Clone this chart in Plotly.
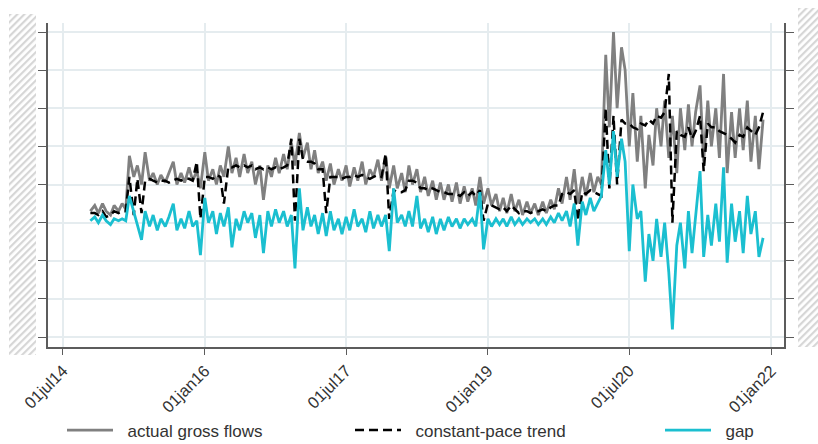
import base64
import pandas as pd
import plotly.graph_objects as go

# semi-monthly observation dates
dates = pd.date_range("2014-10-15", "2021-12-01", freq="SMS")

actual_gross_flows = [
    .3, .45, .25, .5, .3,
    .2, .45, .3, .5, .35, 1.75, 1.2, 1.5, 1.0, 1.85, 1.1, 1.3, 1.0, 1.25, 1.05, 1.3, 1.6, 1.0, 1.3, 1.05, 1.45, 1.1, 1.35, .9,
    1.85, 1.1, 1.4, 1.0, 1.5, 1.2, 2.0, 1.3, 1.7, 1.2, 1.8, 1.3, 1.6, 1.0, 1.5, .6, 1.5, 1.2, 1.7, 1.3, 1.8, 1.4, 2.1, 1.5,
    2.35, 1.7, 2.1, 1.4, 1.9, 1.3, 1.6, 1.1, 1.55, 1.0, 1.4, 1.1, 1.5, .95, 1.45, 1.1, 1.6, 1.0, 1.4, 1.2, 1.65, 1.1, 1.75, .9,
    1.5, .9, 1.3, .8, 1.5, 1.0, 1.4, .8, 1.2, .7, 1.1, .6, 1.05, .6, 1.0, .55, 1.05, .5, .95, .55, .9, .45, 1.2, .5,
    .9, .45, .75, .3, .65, .25, .75, .3, .6, .2, .55, .25, .5, .2, .55, .25, .6, .35, .9, .5, 1.2, .6, 1.4, .5,
    1.2, .7, 1.3, .8, 1.2, 1.0, 4.4, 2.5, 5.0, 3.0, 4.6, 4.0, 2.0, 3.4, 1.6, 2.8, .9, 2.3, 1.5, 3.0, 2.0, 3.2, 1.7, 2.8,
    1.3, 3.0, 1.9, 3.1, 2.0, 2.9, 3.6, 1.6, 3.2, 2.0, 3.0, 1.7, 3.9, 1.3, 2.9, 1.7, 3.0, 1.9, 3.2, 1.6, 2.8, 1.4, 2.7,
]

constant_pace_trend = [
    .25, .25, .2, .3, .15,
    .2, .3, .25, .3, .3, 1.2, .2, 1.15, .25, 1.1, 1.15, 1.1, 1.05, 1.1, 1.1, 1.05, 1.1, 1.15, 1.1, 1.15, 1.15, 1.1, 1.6, .1,
    1.2, 1.2, 1.15, 1.25, 1.2, .5, 1.47, 1.45, 1.5, 1.45, 1.5, 1.45, 1.5, 1.4, 1.45, 1.4, 1.45, 1.4, 1.45, 1.4, 1.45, 1.5, 2.2, .05,
    2.2, 1.65, 1.6, 1.6, 1.55, 1.4, 1.4, .25, 1.2, 1.2, 1.2, 1.15, 1.2, 1.2, 1.25, 1.2, 1.25, 1.2, 1.15, 1.2, 1.25, 1.2, 1.8, .1,
    .85, .8, .8, .85, 1.1, 1.1, 1.05, .9, .9, .85, .9, .85, .8, .8, .75, .75, .75, .7, .8, .7, .8, .7, .85, .05,
    .5, .45, .4, .35, .4, .3, .45, .35, .25, .3, .3, .25, .3, .3, .35, .3, .4, .45, .45, .75, .8, .75, .85, .05,
    .8, .75, .85, .8, .75, .7, 3.0, .9, 2.8, 1.0, 2.7, 2.6, 2.6, 2.5, 2.45, 2.6, 2.55, 2.7, 2.6, 2.8, 2.75, 2.9, 3.9, 0.0,
    2.4, 2.3, 2.25, 2.5, 2.2, 2.4, 2.8, 1.35, 2.6, 2.5, 2.5, 2.4, 2.35, 2.3, 2.2, 2.1, 2.3, 2.25, 2.5, 2.4, 2.3, 2.5, 2.9,
]

gap = [
    .05, .15, 0, .2, .05,
    -.05, .1, .05, .1, .05, .7, .3, -.1, -.45, .3, -.1, .2, -.2, .1, -.1, .15, .5, -.2, .1, -.15, .3, -.1, .05, -.85,
    .65, 0, .3, -.3, .25, -.1, .4, -.65, .1, -.2, .3, 0, .25, -.4, .2, -.8, .3, -.1, .35, 0, .3, -.1, .2, -1.2,
    .9, -.2, .4, -.1, .2, -.3, .25, -.35, .3, -.2, .1, -.3, .15, -.2, .35, -.1, .1, -.25, .3, -.15, .2, -.1, .2, -.75,
    .9, 0, .2, -.1, .3, -.1, .7, -.15, .1, -.25, .15, -.3, .1, -.2, .15, -.1, .1, -.15, .1, -.05, .1, -.1, .8, -.7,
    .1, -.1, .1, -.05, .1, -.1, .15, -.05, .1, -.05, .1, 0, .1, -.05, .1, -.05, .15, 0, .25, .05, .3, -.1, .5, -.6,
    .55, .2, .65, .3, .5, .7, 1.9, 1.0, 2.4, 1.2, 2.2, 1.6, -.75, 1.0, .1, .3, -1.55, -.3, -1.0, .1, -.9, 0, -1.3, -2.8,
    -.6, 0, -1.2, .3, -.8, .1, 1.35, -.9, .2, -.6, .5, -.5, 1.45, -1.05, .5, -.5, .3, -.8, .7, -.3, .3, -.9, -.4,
]

series_names = ["actual gross flows", "constant-pace trend", "gap"]
tick_dates = ["2014-07-01", "2016-01-01", "2017-07-01", "2019-01-01", "2020-07-01", "2022-01-01"]
tick_labels = ["01jul14", "01jan16", "01jul17", "01jan19", "01jul20", "01jan22"]
y_ticks = [-3, -2, -1, 0, 1, 2, 3, 4, 5]

FONT = "Liberation Sans, Arial, Helvetica, sans-serif"
GRID = "#e5ecef"
AXIS = "#5c5c5c"
W, H = 818.0, 444.0
PAD = "\u00a0\u00a0"  # spacing between legend sample and label


def hatch_uri(w, h):
    svg = (
        f"<svg xmlns='http://www.w3.org/2000/svg' width='{w}' height='{h}' "
        f"viewBox='0 0 {w} {h}' preserveAspectRatio='none'>"
        "<defs><pattern id='p' width='5' height='5' patternUnits='userSpaceOnUse' "
        "patternTransform='rotate(45)'><rect x='0' y='0' width='2.2' height='5' fill='#d6d6d6'/>"
        "</pattern></defs>"
        f"<rect width='{w}' height='{h}' fill='url(#p)'/></svg>"
    )
    return "data:image/svg+xml;base64," + base64.b64encode(svg.encode()).decode()


fig = go.Figure()
fig.add_trace(go.Scatter(x=dates, y=actual_gross_flows, mode="lines", name=PAD + series_names[0],
                         line=dict(color="#808080", width=2.8), legend="legend"))
fig.add_trace(go.Scatter(x=dates, y=constant_pace_trend, mode="lines", name=PAD + series_names[1],
                         line=dict(color="#000000", width=2.5, dash="9px,5px"), legend="legend2"))
fig.add_trace(go.Scatter(x=dates, y=gap, mode="lines", name=PAD + series_names[2],
                         line=dict(color="#1bbfd0", width=2.8), legend="legend3"))

leg_common = dict(orientation="h", xref="container", yref="container",
                  yanchor="middle", y=1 - 430.5 / H, xanchor="left",
                  font=dict(family=FONT, size=17, color="#333333"), itemwidth=46,
                  bgcolor="rgba(0,0,0,0)", borderwidth=0)

fig.update_layout(
    width=818, height=444,
    margin=dict(l=48, r=34, t=23, b=97, pad=0, autoexpand=False),
    paper_bgcolor="white", plot_bgcolor="white",
    showlegend=True,
    legend=dict(x=62 / W, **leg_common),
    legend2=dict(x=350 / W, **leg_common),
    legend3=dict(x=660 / W, **leg_common),
    xaxis=dict(type="date", range=["2014-05-04", "2022-02-20"], automargin=False,
               tickvals=tick_dates, ticktext=tick_labels, tickangle=-45,
               ticks="outside", ticklen=6, tickwidth=1.2, tickcolor=AXIS,
               showline=True, linecolor=AXIS, linewidth=1.5,
               showgrid=True, gridcolor=GRID, gridwidth=1.5, zeroline=False,
               tickfont=dict(family=FONT, size=16.5, color="#333333")),
    yaxis=dict(range=[-3.262, 5.236], tickvals=y_ticks, showticklabels=False, automargin=False,
               ticks="outside", ticklen=8, tickwidth=1.2, tickcolor=AXIS,
               showline=True, linecolor=AXIS, linewidth=1.5, mirror="ticks",
               showgrid=True, gridcolor=GRID, gridwidth=1.5, zeroline=False),
    images=[
        dict(source=hatch_uri(27, 342), xref="paper", yref="paper",
             x=(9 - 48) / 736, y=(347 - 13) / 325, sizex=27 / 736, sizey=342 / 325,
             xanchor="left", yanchor="top", sizing="stretch", layer="above"),
        dict(source=hatch_uri(20, 340), xref="paper", yref="paper",
             x=(798 - 48) / 736, y=(347 - 7) / 325, sizex=20 / 736, sizey=340 / 325,
             xanchor="left", yanchor="top", sizing="stretch", layer="above"),
    ],
)

fig.write_html("out.html", config={"displayModeBar": False},
               post_script="document.body.style.margin='0';")
